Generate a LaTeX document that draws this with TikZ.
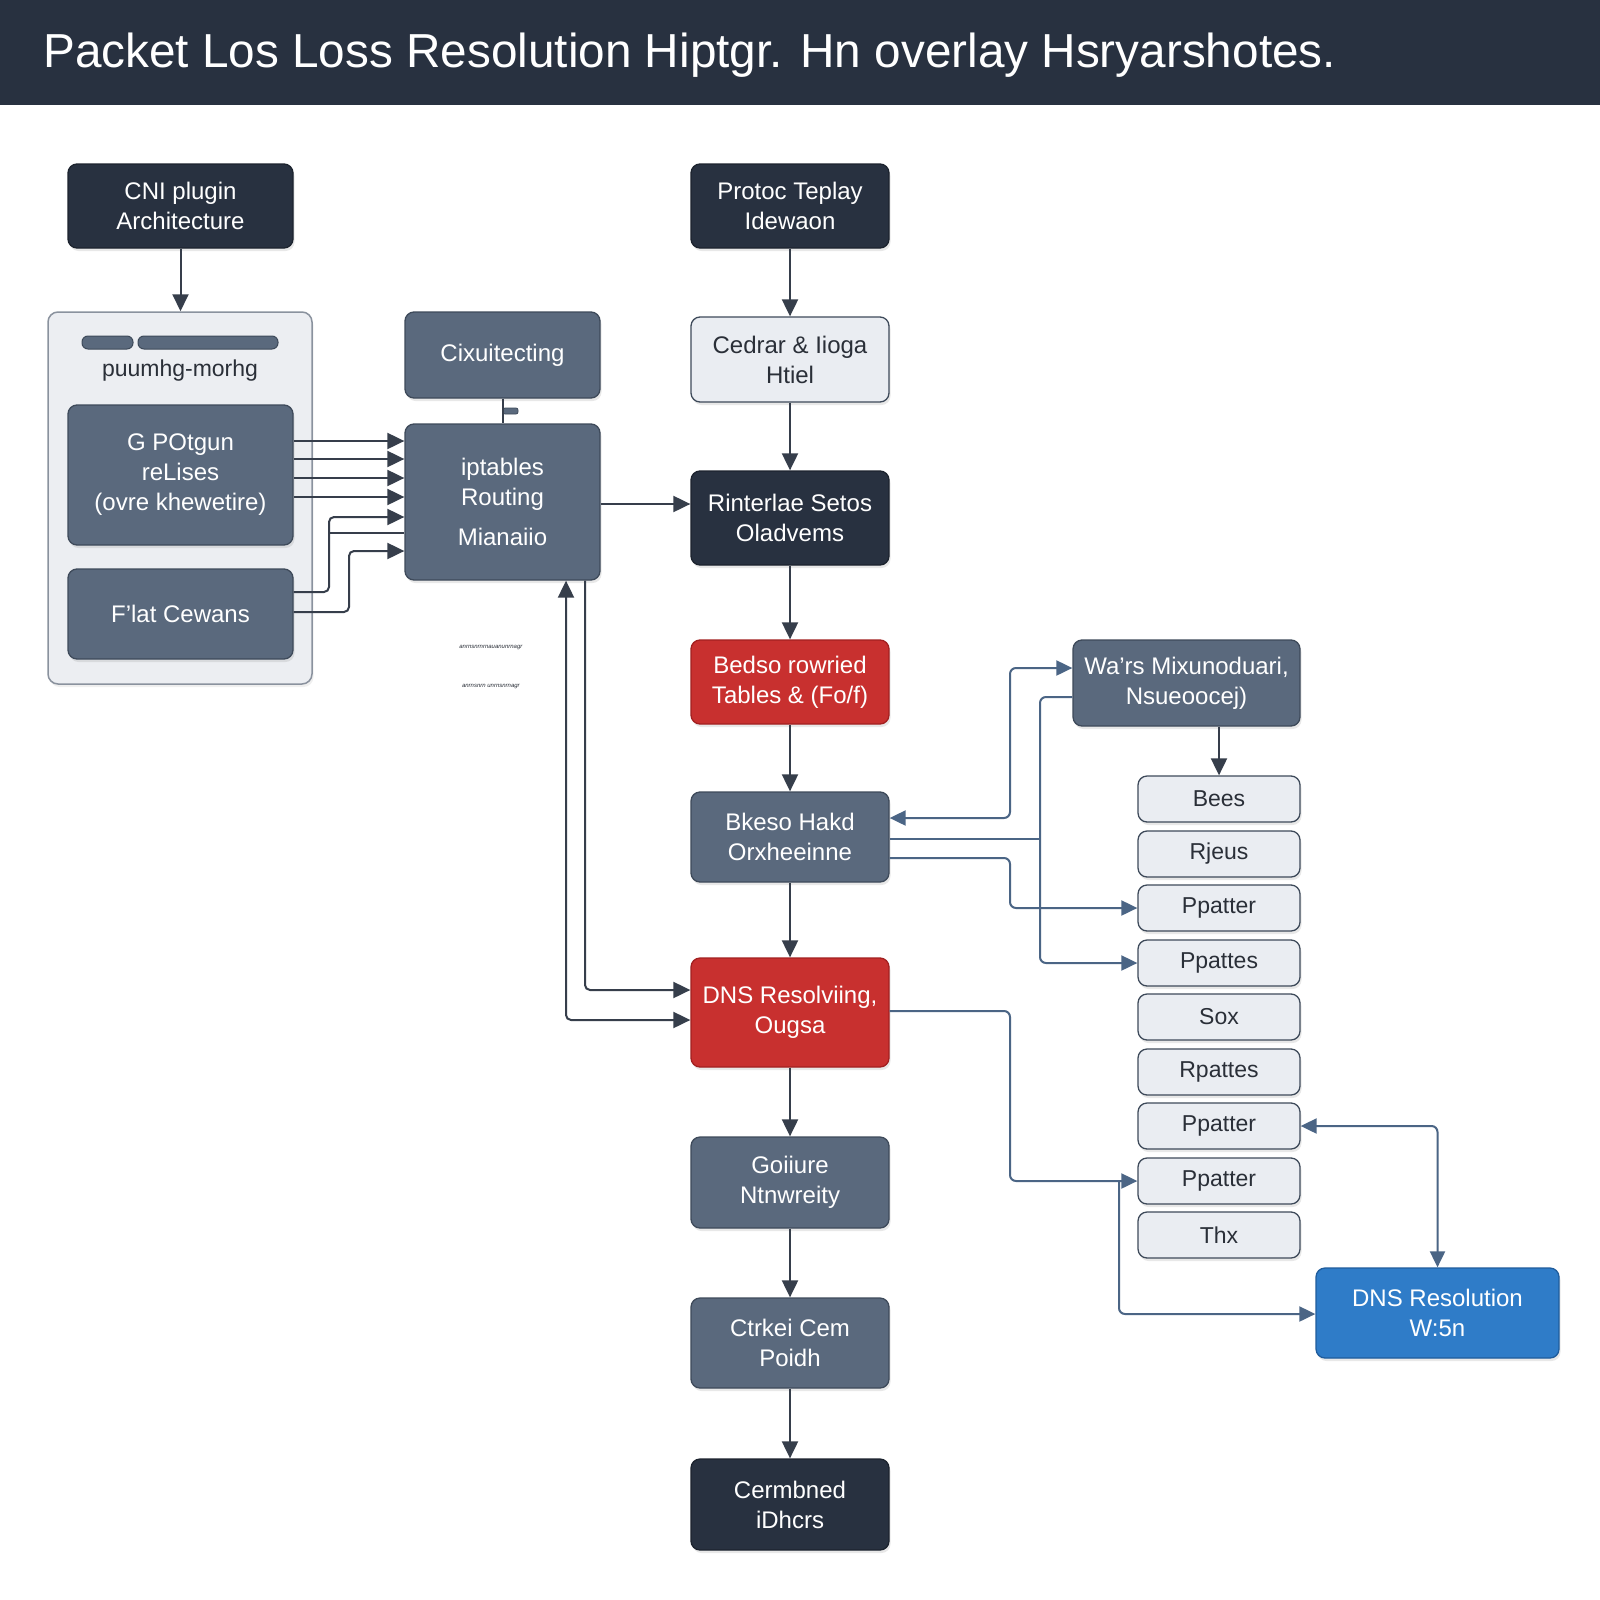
\documentclass[tikz,border=0pt]{standalone}
\usepackage{fontspec}
\setmainfont{Liberation Sans}
\usetikzlibrary{arrows.meta,shadows}
\definecolor{navy}{HTML}{283140}
\definecolor{navyedge}{HTML}{1C232E}
\definecolor{slate}{HTML}{5A697D}
\definecolor{slateedge}{HTML}{3E4A5A}
\definecolor{lightfill}{HTML}{EAEDF2}
\definecolor{textdark}{HTML}{2A2F38}
\definecolor{redfill}{HTML}{C8302F}
\definecolor{rededge}{HTML}{A22020}
\definecolor{bluefill}{HTML}{2F7CC8}
\definecolor{blueedge}{HTML}{1F5C9C}
\definecolor{contfill}{HTML}{ECEEF2}
\definecolor{contedge}{HTML}{8A929E}
\definecolor{arrdark}{HTML}{363E4B}
\definecolor{arrblue}{HTML}{4B6585}
\tikzset{
  base/.style={rounded corners=9pt, draw, line width=1.3pt, align=center,
    font=\fontsize{24}{30}\selectfont, inner sep=0pt,
    drop shadow={opacity=0.18, shadow xshift=1.5pt, shadow yshift=-3pt}},
  darkbox/.style={base, fill=navy, draw=navyedge, text=white},
  slatebox/.style={base, fill=slate, draw=slateedge, text=white},
  lightbox/.style={base, fill=lightfill, draw=slateedge, text=textdark},
  redbox/.style={base, fill=redfill, draw=rededge, text=white},
  bluebox/.style={base, fill=bluefill, draw=blueedge, text=white},
  colbox/.style={minimum width=198pt},
  smallbox/.style={lightbox, minimum width=162pt, minimum height=46pt, font=\fontsize{23}{28}\selectfont},
  arr/.style={draw=arrdark, line width=2pt, rounded corners=5pt, -{Triangle[length=17pt,width=16pt]}},
  darr/.style={draw=arrdark, line width=2pt, rounded corners=5pt, {Triangle[length=17pt,width=16pt]}-{Triangle[length=17pt,width=16pt]}},
  plainline/.style={draw=arrdark, line width=2pt, rounded corners=5pt},
  rarr/.style={draw=arrblue, line width=2pt, rounded corners=6pt, -{Triangle[length=16pt,width=15pt]}},
  rdarr/.style={draw=arrblue, line width=2pt, rounded corners=6pt, {Triangle[length=16pt,width=15pt]}-{Triangle[length=16pt,width=15pt]}},
  rline/.style={draw=arrblue, line width=2pt, rounded corners=6pt},
  pill/.style={fill=slate, draw=slateedge, line width=1pt, rounded corners=6pt, inner sep=0pt, minimum height=13pt},
  tiny/.style={font=\fontsize{6}{7}\selectfont, text=textdark, inner sep=0pt}
}
\begin{document}
\begin{tikzpicture}[x=1pt,y=-1pt]
\useasboundingbox (0,0) rectangle (1600,1600);
\fill[white] (0,0) rectangle (1600,1600);
\fill[navy] (0,0) rectangle (1600,105);
\node[anchor=west, text=white, inner sep=0pt, font=\fontsize{47.7}{52}\selectfont] (title) at (43,55) {Packet Los Loss Resolution Hiptgr. Hn overlay Hsryarshotes.};

% left column
\node[darkbox, minimum width=225pt, minimum height=84pt] (cni) at (180.5,206) {CNI plugin\\Architecture};
\node[draw=contedge, fill=contfill, line width=1.5pt, rounded corners=10pt, minimum width=264pt, minimum height=372pt, inner sep=0pt,
  drop shadow={opacity=0.12, shadow xshift=1.5pt, shadow yshift=-3pt}] (cont) at (180,498) {};
\node[pill, minimum width=51pt] (pill1) at (107.5,342.5) {};
\node[pill, minimum width=140pt] (pill2) at (208,342.5) {};
\node[text=textdark, inner sep=0pt, font=\fontsize{23}{28}\selectfont] (clab) at (180,371) {puumhg-morhg};
\node[slatebox, minimum width=225pt, minimum height=140pt] (g) at (180.5,475) {G POtgun\\reLises\\(ovre khewetire)};
\node[slatebox, minimum width=225pt, minimum height=90pt] (flat) at (180.5,614) {F'lat Cewans};

\node[slatebox, minimum width=195pt, minimum height=86pt] (circ) at (502.5,355) {Cixuitecting};
\node[slatebox, minimum width=195pt, minimum height=156pt] (ipt) at (502.5,502) {iptables\\Routing\\[10pt]Mianaiio};
\fill[slate, draw=slateedge, line width=0.8pt, rounded corners=2pt] (503,408) rectangle (518,414);

\node[tiny] (t1) at (491,648) {\textit{anrnsnrnrnauanunrnagr}};
\node[tiny] (t2) at (491,687) {\textit{anrnsnrn unrnsnrnagr}};

% center column
\node[darkbox, colbox, minimum height=84pt] (prot) at (790,206) {Protoc Teplay\\Idewaon};
\node[lightbox, colbox, minimum height=85pt] (ced) at (790,359.5) {Cedrar \& Iioga\\Htiel};
\node[darkbox, colbox, minimum height=94pt] (rint) at (790,518) {Rinterlae Setos\\Oladvems};
\node[redbox, colbox, minimum height=84pt] (bed) at (790,682) {Bedso rowried\\Tables \& (Fo/f)};
\node[slatebox, colbox, minimum height=90pt] (bk) at (790,837) {Bkeso Hakd\\Orxheeinne};
\node[redbox, colbox, minimum height=109pt] (dns) at (790,1012.5) {DNS Resolviing,\\Ougsa};
\node[slatebox, colbox, minimum height=91pt] (goi) at (790,1182.5) {Goiiure\\Ntnwreity};
\node[slatebox, colbox, minimum height=90pt] (ctr) at (790,1343) {Ctrkei Cem\\Poidh};
\node[darkbox, colbox, minimum height=91pt] (cer) at (790,1504.5) {Cermbned\\iDhcrs};

% right side
\node[slatebox, minimum width=227pt, minimum height=86pt] (wars) at (1186.5,683) {Wa'rs Mixunoduari,\\Nsueoocej)};
\node[smallbox] (p1) at (1219,799) {Bees};
\node[smallbox] (p2) at (1219,854) {Rjeus};
\node[smallbox] (p3) at (1219,908) {Ppatter};
\node[smallbox] (p4) at (1219,963) {Ppattes};
\node[smallbox] (p5) at (1219,1017) {Sox};
\node[smallbox] (p6) at (1219,1072) {Rpattes};
\node[smallbox] (p7) at (1219,1126) {Ppatter};
\node[smallbox] (p8) at (1219,1181) {Ppatter};
\node[smallbox] (p9) at (1219,1235) {Thx};
\node[bluebox, minimum width=243pt, minimum height=90pt] (dnsr) at (1437.5,1313) {DNS Resolution\\W:5n};

% connectors left
\draw[arr] (cni.south) -- (cni.south |- cont.north);
\foreach \yy in {441,459,478,497} {
  \draw[arr] (g.east |- 0,\yy) -- (ipt.west |- 0,\yy);
}
\draw[arr] (flat.east |- 0,592) -- (329,592) -- (329,517) -- (ipt.west |- 0,517);
\coordinate (br) at (329,533);
\draw[plainline] (br) -- (ipt.west |- br);
\draw[arr] (flat.east |- 0,612) -- (349,612) -- (349,551) -- (ipt.west |- 0,551);
\draw[plainline] (circ.south) -- (ipt.north);
\draw[arr] (ipt.east |- 0,504) -- (rint.west |- 0,504);
\draw[arr] (ipt.south -| 585,0) -- (585,990) -- (dns.west |- 0,990);
\draw[darr] (ipt.south -| 566,0) -- (566,1020) -- (dns.west |- 0,1020);

% center column arrows
\draw[arr] (prot) -- (ced);
\draw[arr] (ced) -- (rint);
\draw[arr] (rint) -- (bed);
\draw[arr] (bed) -- (bk);
\draw[arr] (bk) -- (dns);
\draw[arr] (dns) -- (goi);
\draw[arr] (goi) -- (ctr);
\draw[arr] (ctr) -- (cer);

% right connectors
\draw[arr] (wars.south -| p1.north) -- (p1.north);
\draw[rdarr] (bk.east |- 0,818) -- (1010,818) -- (1010,668) -- (wars.west |- 0,668);
\draw[rarr] (wars.west |- 0,697) -- (1040,697) -- (1040,963) -- (p4.west);
\draw[rline] (bk.east |- 0,839) -- (1040,839);
\draw[rarr] (bk.east |- 0,858) -- (1010,858) -- (1010,908) -- (p3.west);
\draw[rarr] (dns.east |- 0,1011) -- (1010,1011) -- (1010,1181) -- (p8.west);
\coordinate (jn) at (1119,1181);
\draw[rarr] (jn) -- (1119,1314) -- (dnsr.west |- 0,1314);
\draw[rdarr] (p7.east) -- (p7.east -| dnsr.north) -- (dnsr.north);
\end{tikzpicture}
\end{document}
